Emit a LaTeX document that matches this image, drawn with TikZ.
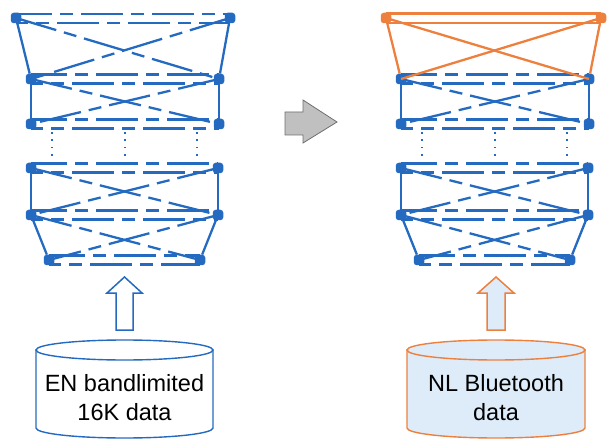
\documentclass[tikz,border=0pt]{standalone}
\usepackage{fontspec}
\setmainfont{Liberation Sans}
\definecolor{nnblue}{RGB}{36,106,192}
\definecolor{nnorange}{RGB}{238,128,62}
\definecolor{lightfill}{RGB}{222,236,249}
\definecolor{arrowgray}{RGB}{192,192,192}
\definecolor{arrowedge}{RGB}{110,110,110}
\begin{document}
\begin{tikzpicture}[x=1bp,y=-1bp,
  neuron/.style={fill=#1,draw=none,rounded corners=3bp,minimum size=10.5bp,inner sep=0pt},
  wire/.style={line width=2.3bp,color=#1},
  dashwire/.style={line width=2.3bp,color=nnblue,dash pattern=on 42bp off 8bp on 13bp off 8bp},
  dotwire/.style={line width=1.8bp,color=nnblue,dash pattern=on 1.8bp off 5.5bp},
  blockarrow/.style={line width=1.5bp,line join=miter},
  cyl/.style={line width=1.4bp},
  cyltext/.style={align=center,text=black,font=\fontsize{23.5bp}{29bp}\selectfont}
  ]
\useasboundingbox (0,0) rectangle (610,441);

% ---------- common layers 2..6 of both networks ----------
\foreach \p/\dx in {A/0,B/370}{
 \begin{scope}[xshift=\dx bp]
  \node[neuron=nnblue] (\p2l) at (31,79) {};
  \node[neuron=nnblue] (\p2r) at (219,79) {};
  \node[neuron=nnblue] (\p3l) at (31,124) {};
  \node[neuron=nnblue] (\p3r) at (219,124) {};
  \node[neuron=nnblue] (\p4l) at (31,168) {};
  \node[neuron=nnblue] (\p4r) at (218,168) {};
  \node[neuron=nnblue] (\p5l) at (31,215) {};
  \node[neuron=nnblue] (\p5r) at (218,215) {};
  \node[neuron=nnblue] (\p6l) at (49,260) {};
  \node[neuron=nnblue] (\p6r) at (200,260) {};
  \coordinate (\p da) at (52,132);  \coordinate (\p db) at (52,160);
  \coordinate (\p ea) at (125,132); \coordinate (\p eb) at (125,160);
  \coordinate (\p fa) at (197,132); \coordinate (\p fb) at (197,160);
 \end{scope}
 \foreach \i in {2,...,6}{
  \draw[dashwire,dash phase=6bp] ([yshift=4.5bp]\p\i l.center) -- ([yshift=4.5bp]\p\i r.center);
  \draw[dashwire,dash phase=30bp] ([yshift=-4.5bp]\p\i l.center) -- ([yshift=-4.5bp]\p\i r.center);
 }
 \foreach \i/\j in {2/3,4/5,5/6}{
  \draw[wire=nnblue] (\p\i l) -- (\p\j l);
  \draw[wire=nnblue] (\p\i r) -- (\p\j r);
  \draw[dashwire] (\p\i l.center) -- (\p\j r.center);
  \draw[dashwire] (\p\i r.center) -- (\p\j l.center);
 }
 \draw[dotwire] (\p da) -- (\p db);
 \draw[dotwire] (\p ea) -- (\p eb);
 \draw[dotwire] (\p fa) -- (\p fb);
}

% ---------- top layer, left network (blue, dashed) ----------
\node[neuron=nnblue] (A1l) at (16,18) {};
\node[neuron=nnblue] (A1r) at (230,18) {};
\draw[dashwire,dash phase=6bp] ([yshift=4bp]A1l.center) -- ([yshift=4bp]A1r.center);
\draw[dashwire,dash phase=30bp] ([yshift=-5bp]A1l.center) -- ([yshift=-5bp]A1r.center);
\draw[wire=nnblue] (A1l) -- (A2l);
\draw[wire=nnblue] (A1r) -- (A2r);
\draw[dashwire] (A1l.center) -- (A2r.center);
\draw[dashwire] (A1r.center) -- (A2l.center);

% ---------- top layer, right network (orange, solid) ----------
\node[neuron=nnorange] (B1l) at (386,18) {};
\node[neuron=nnorange] (B1r) at (601,18) {};
\draw[wire=nnorange] ([yshift=4.5bp]B1l.center) -- ([yshift=4.5bp]B1r.center);
\draw[wire=nnorange] ([yshift=-5bp]B1l.center) -- ([yshift=-5bp]B1r.center);
\draw[wire=nnorange] (B1l) -- (B2l);
\draw[wire=nnorange] (B1r) -- (B2r);
\draw[wire=nnorange] (B1l.center) -- (B2r.center);
\draw[wire=nnorange] (B1r.center) -- (B2l.center);

% ---------- gray transfer arrow ----------
\draw[fill=arrowgray,draw=arrowedge,line width=0.8bp,line join=miter]
  (285,112) -- (303,112) -- (303,100) -- (337,122) -- (303,143) -- (303,135) -- (285,135) -- cycle;

% ---------- input arrows ----------
\draw[blockarrow,draw=nnblue,fill=white]
  (124.5,277) -- (142,293) -- (133,293) -- (133,330) -- (116,330) -- (116,293) -- (107,293) -- cycle;
\draw[blockarrow,draw=nnorange,fill=lightfill]
  (496,277) -- (514,293) -- (505,293) -- (505,330) -- (487,330) -- (487,293) -- (478,293) -- cycle;

% ---------- data cylinders ----------
\draw[cyl,draw=nnblue,fill=white]
  (36,350) -- (36,428) arc[start angle=180,end angle=360,x radius=88.5bp,y radius=10bp] -- (213,350) -- cycle;
\draw[cyl,draw=nnblue,fill=white] (124.5,350) ellipse[x radius=88.5bp,y radius=10bp];
\node[cyltext] (entext) at (124.5,397.5) {EN bandlimited\\16K data};

\draw[cyl,draw=nnorange,fill=lightfill]
  (407,350) -- (407,428) arc[start angle=180,end angle=360,x radius=89bp,y radius=10bp] -- (585,350) -- cycle;
\draw[cyl,draw=nnorange,fill=lightfill] (496,350) ellipse[x radius=89bp,y radius=10bp];
\node[cyltext] (nltext) at (496,397.5) {NL Bluetooth\\data};
\end{tikzpicture}
\end{document}
